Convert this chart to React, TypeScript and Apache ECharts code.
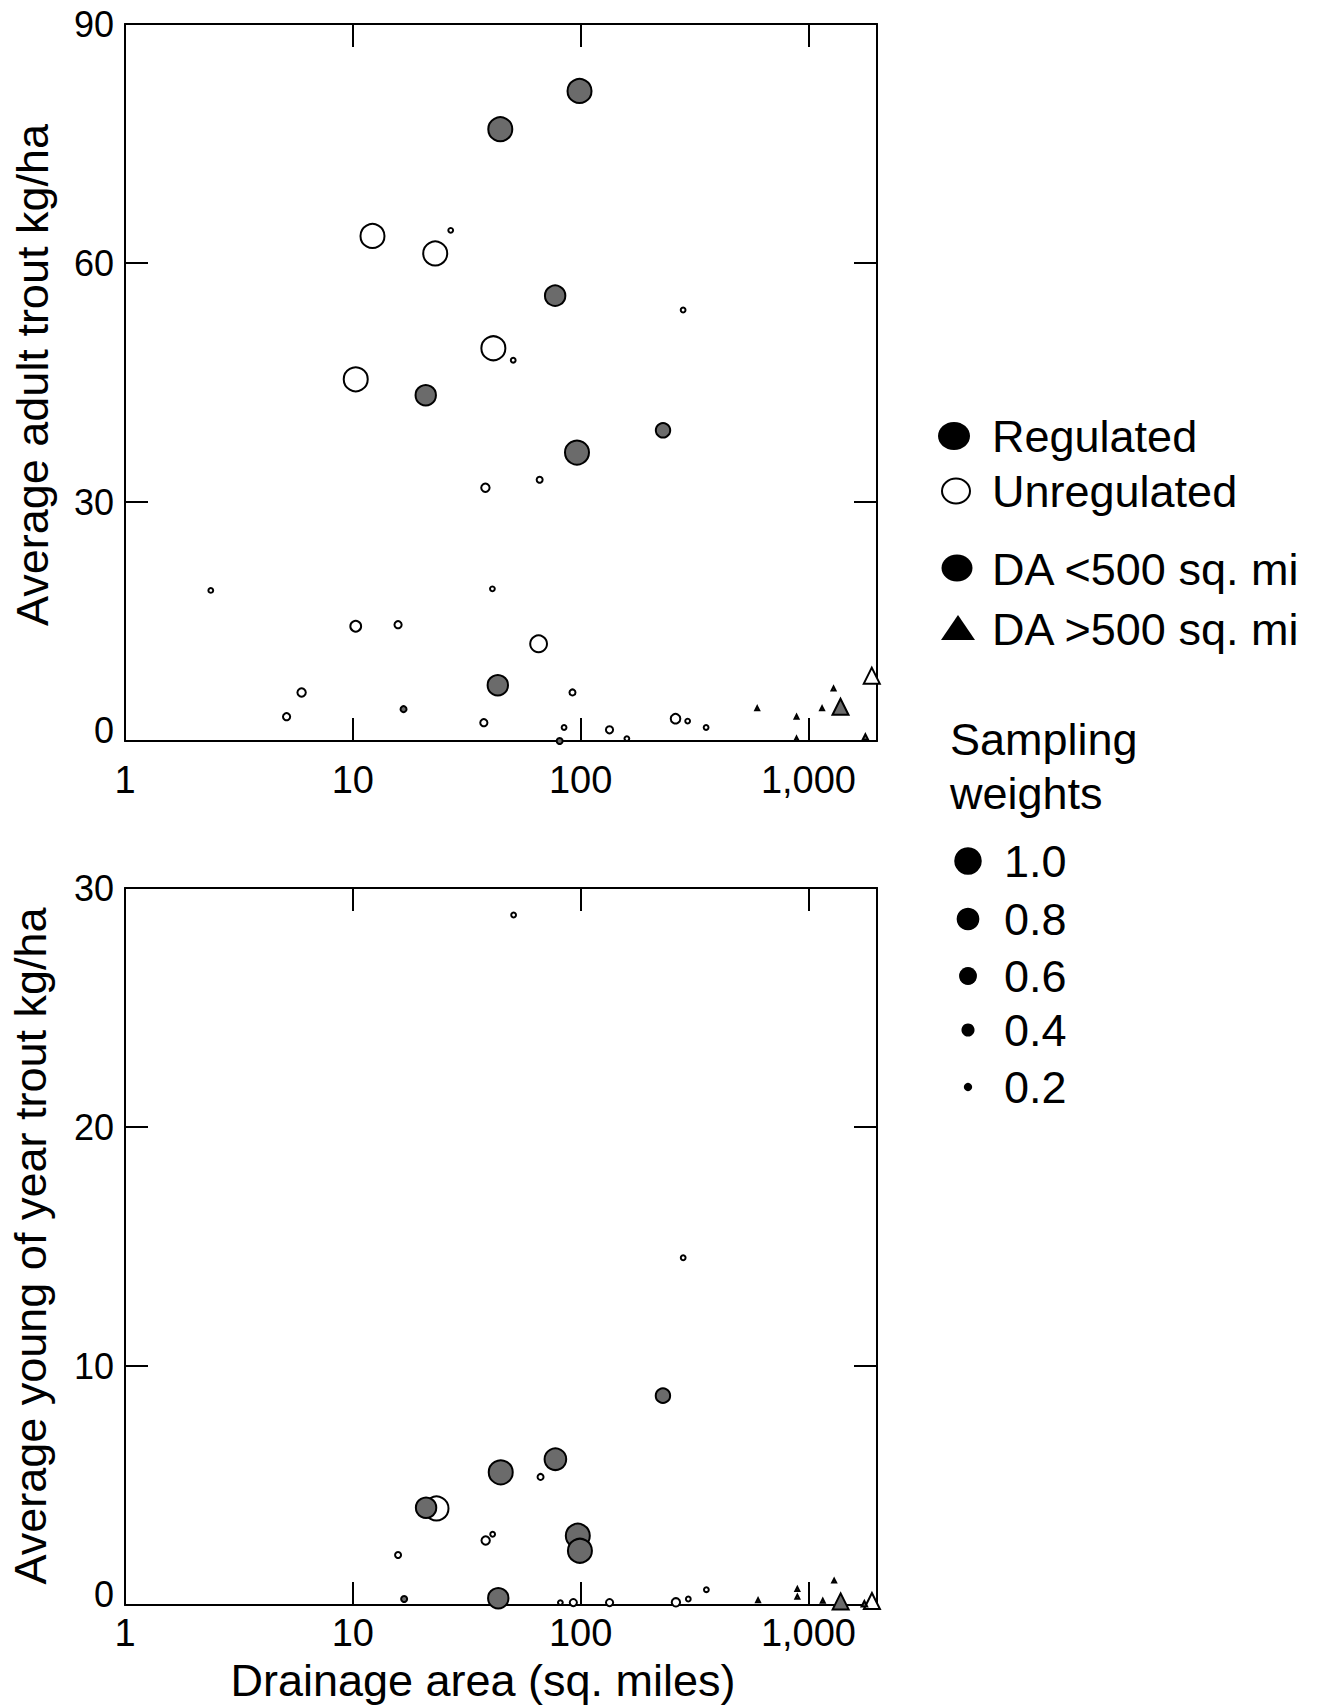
import React, { useEffect, useRef } from 'react';
import * as echarts from 'echarts';

const FONT = '"Liberation Sans", Arial, Helvetica, sans-serif';

// Each point: [drainage area (sq. mi), value (kg/ha), sampling weight]
// Adult trout
const adultUnregCircles = [
  [12.2, 63.4, 1.0], [23.0, 61.2, 1.0], [41.4, 49.3, 1.0], [10.3, 45.4, 1.0],
  [65.4, 12.2, 0.7], [26.9, 64.1, 0.2], [50.6, 47.8, 0.2], [281.8, 54.1, 0.2],
  [38.2, 31.8, 0.35], [66.1, 32.8, 0.25], [2.38, 18.9, 0.2], [41.0, 19.1, 0.2],
  [10.3, 14.4, 0.45], [15.8, 14.6, 0.3], [5.96, 6.1, 0.35], [92.1, 6.1, 0.25],
  [5.12, 3.05, 0.3], [37.6, 2.3, 0.3], [84.6, 1.7, 0.2], [133.9, 1.4, 0.3],
  [159.6, 0.3, 0.2], [261, 2.8, 0.4], [295, 2.5, 0.2], [355.5, 1.7, 0.2],
];
const adultRegCircles = [
  [98.9, 81.6, 1.0], [44.4, 76.8, 1.0], [77.3, 55.9, 0.85], [20.9, 43.4, 0.85],
  [230, 39.0, 0.6], [96.4, 36.2, 1.0], [43.3, 7.0, 0.85], [16.7, 4.0, 0.25],
  [80.9, 0.0, 0.25],
];
const adultUnregTriangles = [[1897, 8.2, 1.0]];
const adultRegTriangles = [
  [596, 4.1, 0.25], [887, 3.05, 0.25], [887, 0.3, 0.25], [1148, 4.1, 0.25],
  [1289, 6.6, 0.25], [1383, 4.3, 1.0], [1778, 0.5, 0.35],
];

// Young-of-year trout
const yoyUnregCircles = [
  [50.8, 28.87, 0.2], [282, 14.53, 0.2], [66.7, 5.36, 0.25], [23.3, 4.04, 1.0],
  [38.3, 2.7, 0.35], [41.1, 2.96, 0.2], [15.8, 2.09, 0.25], [81.5, 0.1, 0.2],
  [92.9, 0.1, 0.3], [134, 0.1, 0.3], [262, 0.11, 0.35], [297, 0.25, 0.2],
  [356.5, 0.64, 0.2],
];
const yoyRegCircles = [
  [229.8, 8.76, 0.6], [77.5, 6.1, 0.9], [44.6, 5.55, 1.0], [20.97, 4.07, 0.85],
  [97.2, 2.9, 1.0], [99.3, 2.27, 1.0], [16.8, 0.25, 0.25], [43.5, 0.28, 0.85],
];
const yoyUnregTriangles = [[1900, 0.17, 1.0]];
const yoyRegTriangles = [
  [601, 0.2, 0.25], [894, 0.67, 0.25], [894, 0.35, 0.25], [1156, 0.18, 0.25],
  [1297, 1.02, 0.25], [1385, 0.15, 1.0], [1760, 0.05, 0.35],
];

const xRange = [1, 2000];
const adultRange = [0, 90, 30];
const yoyRange = [0, 30, 10];

const legendKinds = ['Regulated', 'Unregulated', 'DA <500 sq. mi', 'DA >500 sq. mi'];
const legendWeightTitle = ['Sampling', 'weights'];
const legendWeights = [1.0, 0.8, 0.6, 0.4, 0.2];

const titles = {
  x: 'Drainage area (sq. miles)',
  adult: 'Average adult trout kg/ha',
  yoy: 'Average young of year trout kg/ha',
};

const GREY = '#6b6b6b';
const CIRCLE_SCALE = 24;
const TRI_SCALE = 16;

function fmtX(v: number) {
  const l = Math.log10(v);
  if (Math.abs(l - Math.round(l)) > 1e-6) return '';
  return Math.round(v).toLocaleString('en-US');
}

function xAxis(gridIndex: number, position: string, showLabel: boolean, margin: number) {
  return {
    type: 'log', logBase: 10, gridIndex, position,
    min: xRange[0], max: xRange[1],
    axisLine: { show: true, onZero: false, lineStyle: { color: '#000', width: 2 } },
    axisTick: { show: true, inside: true, length: 23, lineStyle: { color: '#000', width: 2 } },
    minorTick: { show: false },
    splitLine: { show: false },
    axisLabel: {
      show: showLabel, margin, color: '#000', fontSize: 38, fontFamily: FONT, lineHeight: 38,
      formatter: fmtX, showMinLabel: true, showMaxLabel: false,
    },
  };
}

function yAxis(gridIndex: number, position: string, range: number[], showLabel: boolean) {
  return {
    type: 'value', gridIndex, position,
    min: range[0], max: range[1], interval: range[2],
    axisLine: { show: true, onZero: false, lineStyle: { color: '#000', width: 2 } },
    axisTick: { show: true, inside: true, length: 23, lineStyle: { color: '#000', width: 2 } },
    splitLine: { show: false },
    axisLabel: {
      show: showLabel, margin: 11, color: '#000', fontSize: 36, fontFamily: FONT,
      formatter: (v: number) => (v === 0 ? '{z|0}' : String(v)),
      rich: { z: { fontSize: 36, fontFamily: FONT, color: '#000', padding: [0, 0, 22, 0] } },
    },
  };
}

function scatter(data: number[][], xi: number, yi: number, symbol: string, fill: string, scale: number) {
  return {
    type: 'scatter', xAxisIndex: xi, yAxisIndex: yi, symbol, data,
    symbolSize: (v: number[]) => v[2] * scale,
    itemStyle: { color: fill, borderColor: '#000', borderWidth: 2, opacity: 1 },
    emphasis: { disabled: true },
    clip: false, silent: true,
  };
}

function legendGraphics() {
  const g: any[] = [];
  const textStyle = (text: string, size = 45) => ({
    text, fill: '#000', fontSize: size, fontFamily: FONT, align: 'left', verticalAlign: 'middle',
  });
  const kindY = [436, 491, 569, 629];
  g.push({ type: 'ellipse', shape: { cx: 954, cy: 436, rx: 16, ry: 14 }, style: { fill: '#000' } });
  g.push({ type: 'ellipse', shape: { cx: 956, cy: 491, rx: 14, ry: 12.5 }, style: { fill: '#fff', stroke: '#000', lineWidth: 2 } });
  g.push({ type: 'ellipse', shape: { cx: 957, cy: 568, rx: 15.5, ry: 13.5 }, style: { fill: '#000' } });
  g.push({ type: 'polygon', shape: { points: [[941, 640], [975, 640], [958, 615]] }, style: { fill: '#000' } });
  legendKinds.forEach((t, i) => g.push({ type: 'text', x: 992, y: kindY[i], style: textStyle(t) }));
  g.push({ type: 'text', x: 950, y: 739, style: textStyle(legendWeightTitle[0]) });
  g.push({ type: 'text', x: 950, y: 793, style: textStyle(legendWeightTitle[1]) });
  const wy = [861, 919, 976, 1030, 1087];
  legendWeights.forEach((w, i) => {
    const r = (w * CIRCLE_SCALE + 3.5) / 2;
    g.push({ type: 'circle', shape: { cx: 968, cy: wy[i], r }, style: { fill: '#000' } });
    g.push({ type: 'text', x: 1004, y: wy[i], style: textStyle(w.toFixed(1)) });
  });
  g.push({ type: 'text', x: 483, y: 1680, style: { ...textStyle(titles.x), align: 'center' } });
  g.push({ type: 'text', x: 32, y: 375, rotation: Math.PI / 2, style: { ...textStyle(titles.adult), align: 'center' } });
  g.push({ type: 'text', x: 30, y: 1246, rotation: Math.PI / 2, style: { ...textStyle(titles.yoy), align: 'center' } });
  return g;
}

export default function App() {
  const ref = useRef<HTMLDivElement>(null);
  useEffect(() => {
    if (!ref.current) return;
    const chart = echarts.init(ref.current, undefined, { renderer: 'svg' });
    chart.setOption({
      animation: false,
      backgroundColor: '#fff',
      textStyle: { fontFamily: FONT },
      grid: [
        { left: 125, top: 24, width: 752, height: 717 },
        { left: 125, top: 888, width: 752, height: 717 },
      ],
      xAxis: [
        xAxis(0, 'bottom', true, 20),
        xAxis(0, 'top', false, 8),
        xAxis(1, 'bottom', true, 9),
        xAxis(1, 'top', false, 8),
      ],
      yAxis: [
        yAxis(0, 'left', adultRange, true),
        yAxis(0, 'right', adultRange, false),
        yAxis(1, 'left', yoyRange, true),
        yAxis(1, 'right', yoyRange, false),
      ],
      series: [
        scatter(adultUnregCircles, 0, 0, 'circle', '#fff', CIRCLE_SCALE),
        scatter(adultUnregTriangles, 0, 0, 'triangle', '#fff', TRI_SCALE),
        scatter(adultRegCircles, 0, 0, 'circle', GREY, CIRCLE_SCALE),
        scatter(adultRegTriangles, 0, 0, 'triangle', GREY, TRI_SCALE),
        scatter(yoyUnregCircles, 2, 2, 'circle', '#fff', CIRCLE_SCALE),
        scatter(yoyUnregTriangles, 2, 2, 'triangle', '#fff', TRI_SCALE),
        scatter(yoyRegCircles, 2, 2, 'circle', GREY, CIRCLE_SCALE),
        scatter(yoyRegTriangles, 2, 2, 'triangle', GREY, TRI_SCALE),
      ],
      graphic: legendGraphics(),
    });
    return () => chart.dispose();
  }, []);
  return (
    <div
      ref={ref}
      style={{ position: 'absolute', left: 0, top: 0, width: 1323, height: 1705, background: '#fff' }}
    />
  );
}
